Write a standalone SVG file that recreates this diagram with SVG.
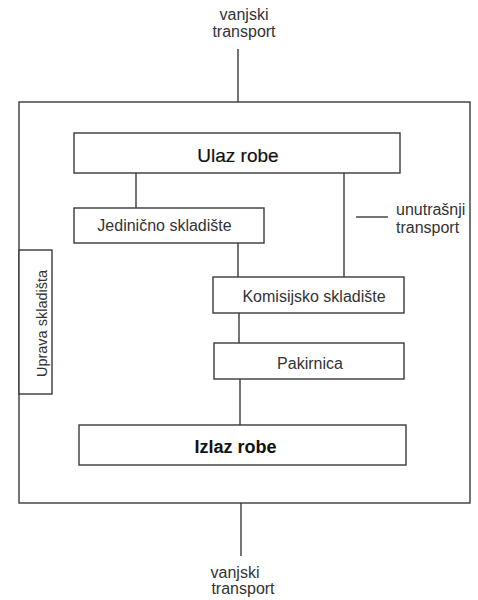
<svg xmlns="http://www.w3.org/2000/svg" width="478" height="600" viewBox="0 0 478 600">
<style>
.box{fill:#fff;stroke:#3a3a3a;stroke-width:1.4}
.ln{stroke:#3a3a3a;stroke-width:1.4;fill:none}
.t{font-family:"Liberation Sans",Arial,sans-serif;font-size:16px;fill:#333}
.m{text-anchor:middle}
.big{font-family:"Liberation Sans",Arial,sans-serif;font-size:19px;fill:#111;text-anchor:middle}
</style>
<rect width="478" height="600" fill="#fff"/>
<g id="skladiste"><rect class="box" x="19" y="102" width="451" height="401"/></g>
<g id="connectors">
<line class="ln" x1="238" y1="49" x2="238" y2="102"/>
<line class="ln" x1="136" y1="173" x2="136" y2="208"/>
<line class="ln" x1="344" y1="173" x2="344" y2="277"/>
<line class="ln" x1="238" y1="243" x2="238" y2="277"/>
<line class="ln" x1="239" y1="313" x2="239" y2="343"/>
<line class="ln" x1="240" y1="379" x2="240" y2="425"/>
<line class="ln" x1="241" y1="503" x2="241" y2="556"/>
</g>
<g id="vanjski-gore"><text class="t m" x="244" y="20">vanjski</text><text class="t m" x="244" y="37">transport</text></g>
<g id="ulaz"><rect class="box" x="74" y="133" width="326" height="40"/><text class="big" x="238" y="161.5" style="stroke:#111;stroke-width:0.2">Ulaz robe</text></g>
<g id="jedinicno"><rect class="box" x="74" y="208" width="190" height="35"/><text class="t m" x="164.5" y="231">Jedinično skladište</text></g>
<g id="unutrasnji"><line class="ln" x1="356" y1="217" x2="388" y2="217"/><text class="t" x="396" y="215">unutrašnji</text><text class="t" x="396" y="233">transport</text></g>
<g id="uprava"><rect class="box" x="19" y="250" width="33" height="144"/><text class="t m" transform="translate(47,323.5) rotate(-90)" style="font-size:14.5px">Uprava skladišta</text></g>
<g id="komisijsko"><rect class="box" x="213" y="277" width="191" height="36"/><text class="t m" x="314" y="301.5">Komisijsko skladište</text></g>
<g id="pakirnica"><rect class="box" x="214" y="343" width="190" height="36"/><text class="t m" x="310" y="369">Pakirnica</text></g>
<g id="izlaz"><rect class="box" x="79" y="425" width="327" height="40"/><text class="big" x="235.5" y="453" style="font-weight:bold;font-size:18px">Izlaz robe</text></g>
<g id="vanjski-dolje"><text class="t m" x="235" y="578">vanjski</text><text class="t m" x="243" y="594">transport</text></g>
</svg>
